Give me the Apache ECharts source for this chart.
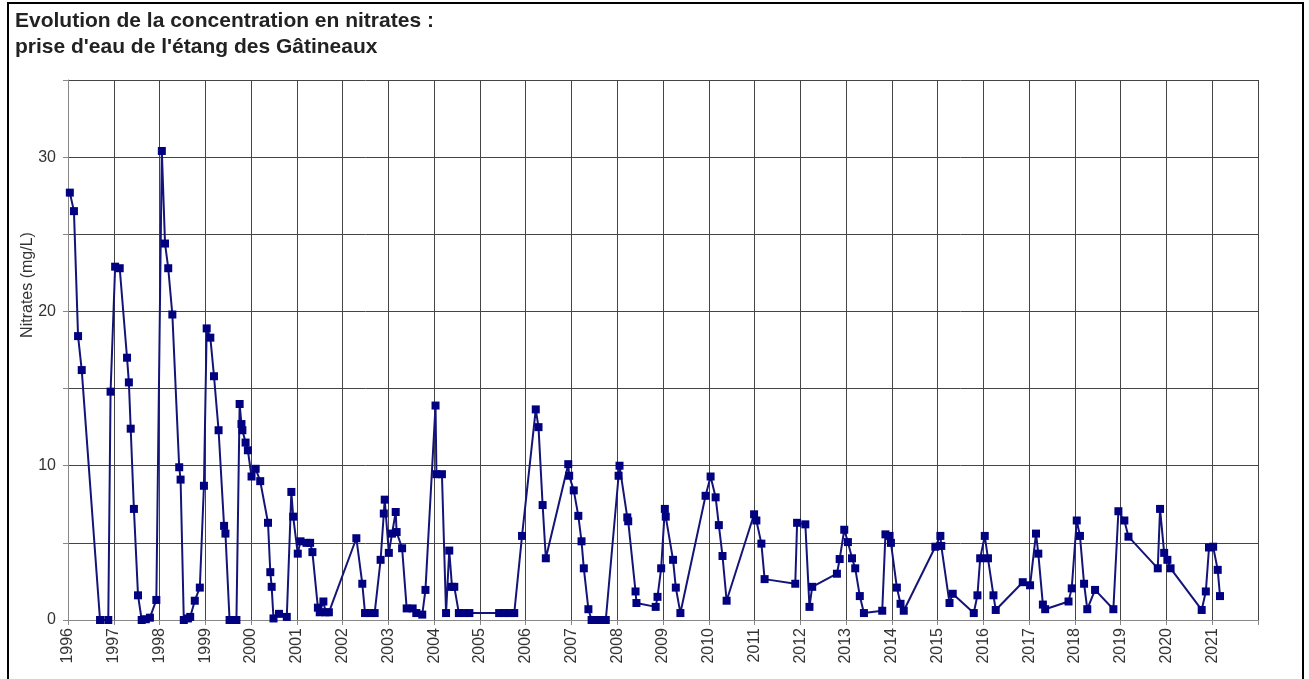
<!DOCTYPE html>
<html>
<head>
<meta charset="utf-8">
<script src="https://cdn.jsdelivr.net/npm/echarts@6/dist/echarts.min.js"></script>
<style>
    html, body { margin: 0; padding: 0; background: #fff; }
    #chart { width: 1309px; height: 679px; }
</style>
</head>
<body>
<div id="chart"></div>
<script>
// dates as decimal years
const sampleYears = [
    1996.04, 1996.13, 1996.22, 1996.30, 1996.70, 1996.88, 1996.93, 1997.03, 1997.13, 1997.29,
    1997.33, 1997.37, 1997.44, 1997.53, 1997.61, 1997.70, 1997.79, 1997.93, 1998.05, 1998.12,
    1998.19, 1998.28, 1998.43, 1998.46, 1998.53, 1998.62, 1998.67, 1998.77, 1998.88, 1998.97,
    1999.03, 1999.11, 1999.19, 1999.29, 1999.41, 1999.44, 1999.53, 1999.68, 1999.75, 1999.79,
    1999.81, 1999.88, 1999.93, 2000.01, 2000.10, 2000.20, 2000.37, 2000.42, 2000.45, 2000.49,
    2000.61, 2000.78, 2000.88, 2000.92, 2001.02, 2001.08, 2001.21, 2001.29, 2001.34, 2001.46,
    2001.50, 2001.58, 2001.63, 2001.70, 2002.30, 2002.43, 2002.49, 2002.60, 2002.70, 2002.83,
    2002.90, 2002.92, 2003.01, 2003.08, 2003.16, 2003.18, 2003.30, 2003.40, 2003.53, 2003.61,
    2003.74, 2003.81, 2004.03, 2004.05, 2004.17, 2004.26, 2004.33, 2004.39, 2004.44, 2004.54,
    2004.66, 2004.77, 2005.42, 2005.53, 2005.64, 2005.75, 2005.92, 2006.22, 2006.28, 2006.37,
    2006.44, 2006.93, 2006.95, 2007.05, 2007.15, 2007.22, 2007.27, 2007.37, 2007.44, 2007.54,
    2007.64, 2007.75, 2008.03, 2008.05, 2008.22, 2008.24, 2008.40, 2008.42, 2008.84, 2008.88,
    2008.96, 2009.04, 2009.06, 2009.22, 2009.28, 2009.38, 2009.93, 2010.04, 2010.15, 2010.22,
    2010.30, 2010.39, 2010.99, 2011.04, 2011.15, 2011.22, 2011.89, 2011.93, 2012.11, 2012.20,
    2012.26, 2012.80, 2012.86, 2012.96, 2013.04, 2013.13, 2013.20, 2013.30, 2013.39, 2013.79,
    2013.86, 2013.95, 2013.98, 2014.11, 2014.19, 2014.26, 2014.95, 2015.06, 2015.08, 2015.26,
    2015.33, 2015.79, 2015.87, 2015.93, 2016.03, 2016.10, 2016.22, 2016.27, 2016.86, 2017.02,
    2017.15, 2017.20, 2017.30, 2017.35, 2017.86, 2017.93, 2018.04, 2018.11, 2018.20, 2018.27,
    2018.44, 2018.84, 2018.95, 2019.08, 2019.17, 2019.81, 2019.86, 2019.95, 2020.02, 2020.09,
    2020.77, 2020.86, 2020.93, 2021.02, 2021.12, 2021.17
]

// nitrates in mg/L, same order as sampleYears
const nitrates = [
    27.7, 26.5, 18.4, 16.2, 0, 0, 14.8, 22.9, 22.8, 17.0,
    15.4, 12.4, 7.2, 1.6, 0, 0.05, 0.15, 1.3, 30.4, 24.4,
    22.8, 19.8, 9.9, 9.1, 0, 0.1, 0.2, 1.25, 2.1, 8.7,
    18.9, 18.3, 15.8, 12.3, 6.1, 5.6, 0, 0, 14.0, 12.7,
    12.3, 11.5, 11.0, 9.3, 9.8, 9.0, 6.3, 3.1, 2.15, 0.1,
    0.4, 0.2, 8.3, 6.7, 4.3, 5.1, 5.0, 5.0, 4.4, 0.8,
    0.5, 1.2, 0.5, 0.5, 5.3, 2.35, 0.45, 0.45, 0.45, 3.9,
    6.9, 7.8, 4.35, 5.6, 7.0, 5.7, 4.65, 0.75, 0.75, 0.45,
    0.35, 1.95, 13.9, 9.45, 9.45, 0.45, 4.5, 2.15, 2.15, 0.45,
    0.45, 0.45, 0.45, 0.45, 0.45, 0.45, 5.45, 13.65, 12.5, 7.45,
    4.0, 10.1, 9.35, 8.4, 6.75, 5.1, 3.35, 0.7, 0, 0,
    0, 0, 9.35, 10.0, 6.65, 6.4, 1.85, 1.1, 0.85, 1.5,
    3.35, 7.2, 6.7, 3.9, 2.1, 0.45, 8.05, 9.3, 7.95, 6.15,
    4.15, 1.25, 6.85, 6.45, 4.95, 2.65, 2.35, 6.3, 6.2, 0.85,
    2.15, 3.0, 3.95, 5.85, 5.05, 4.0, 3.35, 1.55, 0.45, 0.6,
    5.55, 5.45, 5.0, 2.1, 1.05, 0.6, 4.75, 5.45, 4.8, 1.1,
    1.7, 0.45, 1.6, 4.0, 5.45, 4.0, 1.6, 0.65, 2.45, 2.25,
    5.6, 4.3, 1.0, 0.7, 1.2, 2.05, 6.45, 5.45, 2.35, 0.7,
    1.95, 0.7, 7.05, 6.45, 5.4, 3.35, 7.2, 4.35, 3.9, 3.35,
    0.65, 1.85, 4.7, 4.75, 3.25, 1.55
]

const yearMin = 1996
const yearMax = 2022
const yLabelValues = [0, 10, 20, 30]

let myChart = echarts.init(document.getElementById('chart'))
let option = {
    animation: false,
    backgroundColor: '#fff',
    title: {
        text: "Evolution de la concentration en nitrates :\nprise d'eau de l'étang des Gâtineaux",
        left: 10,
        top: 3,
        textStyle: {
            color: '#222',
            fontFamily: 'Liberation Sans',
            fontSize: 21,
            fontWeight: 'bold',
            lineHeight: 26
        }
    },
    graphic: [
        {
            // outer frame of the picture
            type: 'rect',
            shape: { x: 8, y: 3, width: 1295, height: 700 },
            style: { fill: 'none', stroke: '#000', lineWidth: 2 }
        },
        {
            type: 'text',
            x: 28,
            y: 285,
            rotation: Math.PI / 2,
            style: {
                text: 'Nitrates (mg/L)',
                fill: '#333',
                font: '16px Liberation Sans',
                align: 'center',
                verticalAlign: 'middle'
            }
        }
    ],
    grid: {
        left: 68,
        right: 51,
        top: 80,
        bottom: 59
    },
    xAxis: {
        type: 'value',
        min: yearMin,
        max: yearMax,
        interval: 1,
        axisLine: { lineStyle: { color: '#888' } },
        axisTick: { show: true, length: 5, lineStyle: { color: '#888' } },
        splitLine: { show: true, lineStyle: { color: '#444', width: 1 } },
        axisLabel: {
            rotate: 90,
            color: '#333',
            fontFamily: 'Liberation Sans',
            fontSize: 16,
            margin: 8,
            formatter: function (value) {
                return value >= yearMax ? '' : String(value)
            }
        }
    },
    yAxis: {
        type: 'value',
        min: 0,
        max: 35,
        interval: 5,
        axisLine: { show: true, lineStyle: { color: '#888' } },
        axisTick: { show: true, length: 5, lineStyle: { color: '#888' } },
        splitLine: { show: true, lineStyle: { color: '#444', width: 1 } },
        axisLabel: {
            color: '#333',
            fontFamily: 'Liberation Sans',
            fontSize: 16,
            margin: 12,
            formatter: function (value) {
                return yLabelValues.indexOf(value) >= 0 ? String(value) : ''
            }
        }
    },
    series: [
        {
            name: 'Nitrates',
            type: 'line',
            data: sampleYears.map((y, i) => [y, nitrates[i]]),
            symbol: 'rect',
            symbolSize: 8,
            showSymbol: true,
            lineStyle: { color: '#141478', width: 2 },
            itemStyle: { color: '#000080' }
        }
    ]
}

option && myChart.setOption(option)
</script>
</body>
</html>
